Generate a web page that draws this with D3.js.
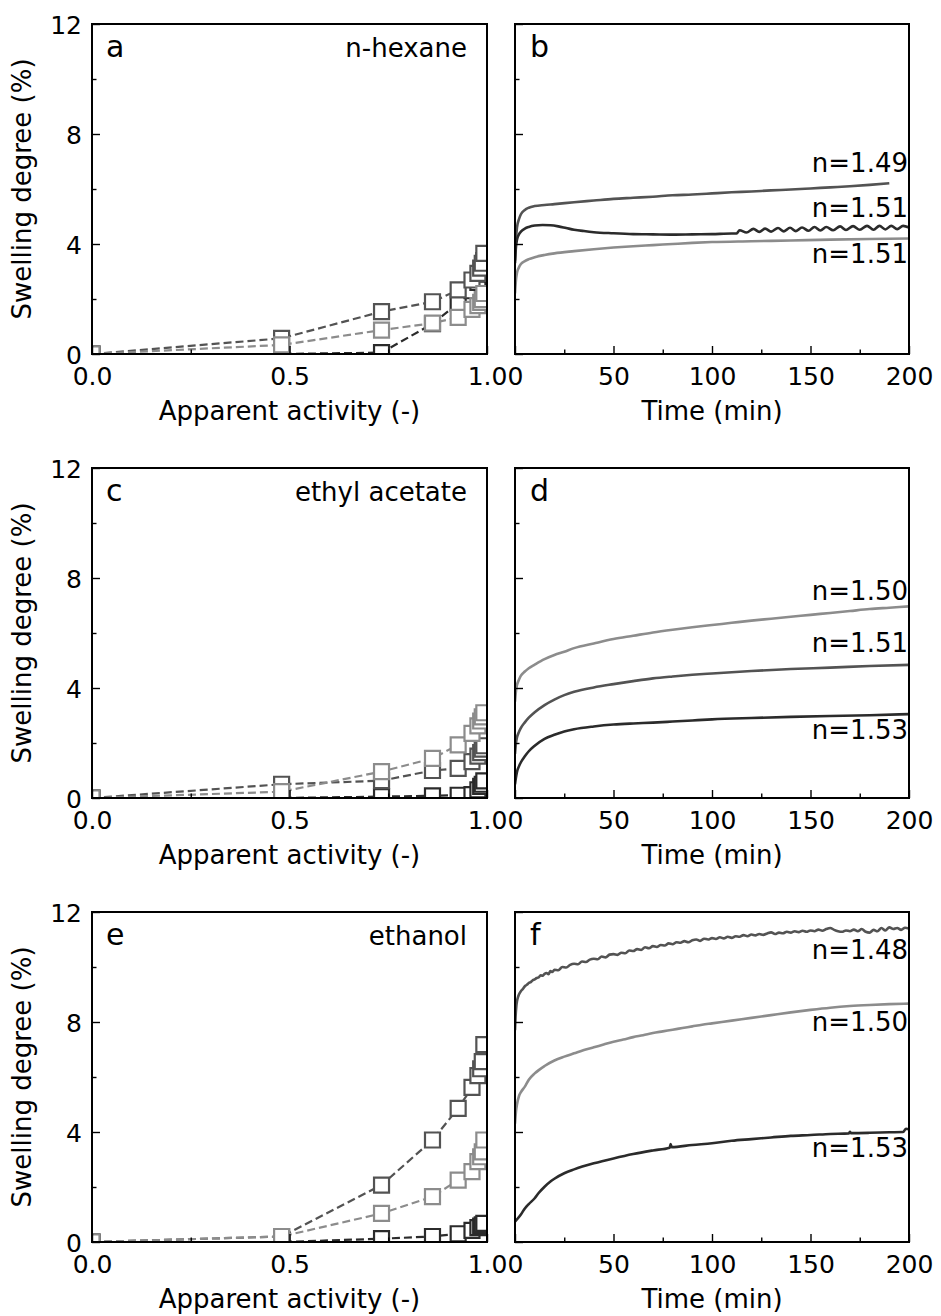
<!DOCTYPE html>
<html>
<head>
<meta charset="utf-8">
<script src="https://cdn.jsdelivr.net/npm/d3@7"></script>
<style>
  body { margin: 0; background: #fff; }
  svg { display: block; }
  text { font-family: "DejaVu Sans", sans-serif; fill: #000; }
</style>
</head>
<body>
<svg id="fig" width="941" height="1316"></svg>
<script>
// ---------- sorption isotherms (left column) ----------
const activity = [0, 0.48, 0.733, 0.862, 0.927, 0.962, 0.977, 0.984, 0.988, 0.992];

const hexaneDarkest = [0, 0, 0.05, 1.1, 1.85, 2.3, 2.6, 2.9, 3.1, 3.4];
const hexaneDark    = [0, 0.57, 1.54, 1.9, 2.33, 2.69, 2.93, 3.12, 3.3, 3.66];
const hexaneGray    = [0, 0.33, 0.87, 1.12, 1.33, 1.62, 1.76, 1.88, 1.98, 2.2];

const ethylDarkest = [0, 0, 0.05, 0.08, 0.1, 0.12, 0.3, 0.42, 0.5, 0.62];
const ethylDark    = [0, 0.5, 0.63, 1.0, 1.08, 1.32, 1.52, 1.65, 1.78, 1.9];
const ethylGray    = [0, 0.23, 0.96, 1.44, 1.93, 2.35, 2.62, 2.8, 2.95, 3.1];

const ethanolDarkest = [0, 0, 0.12, 0.2, 0.3, 0.42, 0.52, 0.58, 0.62, 0.68];
const ethanolDark    = [0, 0.2, 2.07, 3.71, 4.86, 5.62, 6.05, 6.3, 6.56, 7.18];
const ethanolGray    = [0, 0.2, 1.04, 1.65, 2.25, 2.56, 2.92, 3.1, 3.28, 3.71];

// ---------- swelling kinetics (right column), [time (min), swelling (%)] ----------
const hexaneN149 = [[0,3.4],[0.5,4.2],[1,4.6],[2,4.9],[3,5.08],[5,5.24],[7,5.32],[10,5.38],[15,5.42],[20,5.45],[30,5.52],[40,5.58],[50,5.64],[60,5.68],[70,5.72],[80,5.77],[90,5.8],[100,5.84],[110,5.88],[120,5.91],[130,5.95],[140,5.98],[150,6.02],[160,6.06],[170,6.1],[180,6.15],[190,6.21]];
const hexaneN151a = [[0,3.3],[0.5,3.9],[1,4.15],[2,4.35],[3,4.45],[5,4.56],[7,4.62],[10,4.67],[14,4.69],[18,4.68],[22,4.64],[26,4.58],[30,4.52],[35,4.47],[40,4.43],[50,4.39],[60,4.36],[70,4.35],[80,4.34],[90,4.35],[100,4.36],[110,4.38],[112.5,4.38],[114,4.5],[117.5,4.42],[121,4.55],[124,4.44],[127,4.56],[130,4.45],[133.5,4.58],[136.5,4.46],[139.6,4.59],[142.6,4.47],[145.7,4.6],[149,4.48],[152,4.62],[155,4.49],[158,4.62],[161.5,4.5],[165,4.64],[168,4.51],[171.6,4.65],[175,4.52],[178.7,4.66],[182,4.52],[185,4.66],[188,4.53],[191,4.66],[194,4.54],[197,4.66],[200,4.6]];
const hexaneN151b = [[0,2.2],[0.5,2.7],[1,2.95],[2,3.15],[3,3.27],[5,3.38],[7,3.45],[10,3.52],[15,3.6],[20,3.66],[30,3.74],[40,3.81],[50,3.87],[60,3.92],[70,3.96],[80,4.0],[90,4.04],[100,4.07],[120,4.1],[140,4.13],[160,4.16],[180,4.18],[200,4.2]];

const ethylN150 = [[0,3.5],[0.5,3.9],[1,4.1],[2,4.3],[3,4.45],[5,4.6],[7,4.72],[10,4.85],[15,5.05],[20,5.2],[25,5.32],[30,5.45],[40,5.62],[50,5.78],[60,5.9],[70,6.02],[80,6.12],[90,6.21],[100,6.29],[110,6.37],[120,6.45],[130,6.52],[140,6.59],[150,6.66],[160,6.73],[170,6.8],[180,6.87],[190,6.92],[200,6.97]];
const ethylN151 = [[0,1.6],[0.5,2.0],[1,2.2],[2,2.4],[3,2.55],[5,2.75],[7,2.92],[10,3.12],[15,3.38],[20,3.58],[25,3.74],[30,3.86],[40,4.02],[50,4.14],[60,4.25],[70,4.35],[80,4.42],[90,4.48],[100,4.53],[120,4.62],[140,4.69],[160,4.74],[180,4.8],[200,4.84]];
const ethylN153 = [[0,0.5],[0.5,0.75],[1,0.95],[2,1.15],[3,1.3],[5,1.52],[7,1.7],[10,1.9],[15,2.15],[20,2.3],[25,2.42],[30,2.5],[40,2.6],[50,2.67],[60,2.71],[70,2.74],[80,2.78],[90,2.82],[100,2.86],[120,2.91],[140,2.95],[160,2.98],[180,3.01],[200,3.05]];

const ethanolN148 = [[0,7.7],[0.3,8.2],[0.7,8.6],[1,8.75],[1.5,8.9],[2,9.0],[3,9.12],[4,9.2],[5,9.3],[6,9.35],[7,9.42],[8,9.45],[9,9.52],[10,9.55],[11,9.6],[12,9.62],[13,9.7],[14,9.68],[15,9.75],[16,9.78],[17,9.74],[18,9.85],[19,9.82],[20,9.9],[22,9.88],[24,10.0],[26,9.98],[28,10.08],[30,10.12],[32,10.1],[34,10.2],[36,10.18],[38,10.27],[40,10.3],[42,10.28],[44,10.38],[46,10.35],[48,10.45],[50,10.47],[52,10.44],[54,10.52],[56,10.5],[58,10.6],[60,10.58],[62,10.65],[64,10.62],[66,10.72],[68,10.68],[70,10.76],[72,10.73],[74,10.8],[76,10.78],[78,10.86],[80,10.83],[82,10.9],[84,10.88],[86,10.94],[88,10.9],[90,10.97],[92,11.0],[94,10.95],[96,11.03],[98,11.0],[100,11.05],[102,11.02],[104,11.08],[106,11.04],[108,11.1],[110,11.06],[112,11.12],[114,11.1],[116,11.16],[118,11.12],[120,11.18],[122,11.15],[124,11.2],[126,11.17],[128,11.22],[130,11.26],[132,11.2],[134,11.25],[136,11.23],[138,11.28],[140,11.25],[142,11.3],[144,11.27],[146,11.32],[148,11.28],[150,11.33],[152,11.3],[154,11.36],[156,11.32],[158,11.38],[160,11.42],[162,11.35],[164,11.3],[166,11.28],[168,11.33],[170,11.3],[172,11.36],[174,11.3],[176,11.38],[178,11.28],[180,11.25],[182,11.35],[184,11.3],[186,11.42],[188,11.33],[190,11.44],[192,11.38],[194,11.42],[196,11.35],[198,11.43],[200,11.4]];
const ethanolN150 = [[0,4.3],[0.5,4.75],[1,5.0],[2,5.3],[3,5.45],[5,5.65],[7,5.9],[10,6.13],[15,6.4],[20,6.6],[25,6.74],[30,6.86],[35,6.98],[40,7.08],[45,7.18],[50,7.28],[55,7.36],[60,7.45],[65,7.52],[70,7.6],[75,7.66],[80,7.72],[85,7.78],[90,7.84],[95,7.9],[100,7.95],[110,8.05],[120,8.15],[130,8.25],[140,8.35],[150,8.44],[160,8.52],[170,8.58],[180,8.62],[190,8.65],[200,8.67]];
const ethanolN153 = [[0,0.74],[3,1.0],[5,1.22],[7,1.38],[10,1.59],[12,1.78],[15,2.01],[18,2.2],[20,2.3],[25,2.5],[30,2.64],[40,2.86],[50,3.04],[60,3.2],[70,3.33],[78.5,3.43],[79,3.56],[79.5,3.45],[90,3.53],[100,3.59],[110,3.68],[120,3.74],[130,3.8],[140,3.86],[150,3.89],[160,3.93],[169.5,3.95],[170,4.01],[170.5,3.96],[180,3.97],[190,3.99],[197,4.0],[198.5,4.12],[200,4.1]];

// ---------- axis ticks and labels ----------
const activityTicks = [0, 0.5, 1.0];
const activityMinor = [0.25, 0.75];
const timeTicks = [0, 50, 100, 150, 200];
const timeMinor = [25, 75, 125, 175];
const swellTicks = [0, 4, 8, 12];
const swellMinor = [2, 6, 10];

const solvents = ["n-hexane", "ethyl acetate", "ethanol"];
const panelLetters = [["a", "b"], ["c", "d"], ["e", "f"]];

// ---------- styles ----------
const DARKEST = "#2b2b2b", DARK = "#535353", GRAY = "#8c8c8c";
const TICK_FONT = 25, TEXT_FONT = 26, LETTER_FONT = 30;

// ---------- layout ----------
const colL = { x0: 92, x1: 487 };
const colR = { x0: 515, x1: 909 };
const rowY = [{ y0: 24, y1: 354 }, { y0: 468, y1: 798 }, { y0: 912, y1: 1242 }];

const svg = d3.select("#fig");

const isotherms = [
  [{ v: hexaneDarkest, c: DARKEST }, { v: hexaneDark, c: DARK }, { v: hexaneGray, c: GRAY }],
  [{ v: ethylDarkest, c: DARKEST }, { v: ethylDark, c: DARK }, { v: ethylGray, c: GRAY }],
  [{ v: ethanolDarkest, c: DARKEST }, { v: ethanolDark, c: DARK }, { v: ethanolGray, c: GRAY }]
];

const kinetics = [
  [{ d: hexaneN149, c: DARK, label: "n=1.49" }, { d: hexaneN151a, c: DARKEST, label: "n=1.51" }, { d: hexaneN151b, c: GRAY, label: "n=1.51" }],
  [{ d: ethylN150, c: GRAY, label: "n=1.50" }, { d: ethylN151, c: DARK, label: "n=1.51" }, { d: ethylN153, c: DARKEST, label: "n=1.53" }],
  [{ d: ethanolN148, c: DARK, label: "n=1.48" }, { d: ethanolN150, c: GRAY, label: "n=1.50" }, { d: ethanolN153, c: DARKEST, label: "n=1.53" }]
];
// baselines of the refractive-index labels, in swelling units
const labelLevels = [[6.62, 4.98, 3.31], [7.2, 5.31, 2.15], [10.29, 7.67, 3.09]];

function styleAxis(g) {
  g.select(".domain").remove();
  g.selectAll(".tick line").attr("stroke", "#000").attr("stroke-width", 1.4);
  g.selectAll(".tick text").style("font-size", TICK_FONT + "px").attr("fill", "#000");
}

function drawFrame(g, x, y, xTicks, xMinor, xFmt, showYLabels) {
  const h = y.range()[0];
  const xa = g.append("g").attr("transform", `translate(0,${h})`)
    .call(d3.axisBottom(x).tickValues(xTicks).tickFormat(xFmt).tickSize(-8).tickPadding(13));
  styleAxis(xa);
  const xm = g.append("g").attr("transform", `translate(0,${h})`)
    .call(d3.axisBottom(x).tickValues(xMinor).tickFormat("").tickSize(-4.5));
  styleAxis(xm);
  const ya = g.append("g")
    .call(d3.axisLeft(y).tickValues(swellTicks).tickFormat(showYLabels ? d3.format("d") : "").tickSize(-8).tickPadding(10));
  styleAxis(ya);
  ya.selectAll(".tick text").attr("dy", "0.36em");
  const ym = g.append("g")
    .call(d3.axisLeft(y).tickValues(swellMinor).tickFormat("").tickSize(-4.5));
  styleAxis(ym);
  g.append("rect").attr("x", 0).attr("y", 0)
    .attr("width", x.range()[1]).attr("height", h)
    .attr("fill", "none").attr("stroke", "#000").attr("stroke-width", 2);
}

rowY.forEach((r, i) => {
  const h = r.y1 - r.y0;

  // ----- left: swelling vs apparent activity -----
  const wL = colL.x1 - colL.x0;
  const gL = svg.append("g").attr("transform", `translate(${colL.x0},${r.y0})`);
  const xA = d3.scaleLinear().domain([0, 1]).range([0, wL]);
  const yS = d3.scaleLinear().domain([0, 12]).range([h, 0]);

  const clipL = "clipL" + i;
  gL.append("clipPath").attr("id", clipL).append("rect").attr("width", wL).attr("height", h);
  const plotL = gL.append("g").attr("clip-path", `url(#${clipL})`);

  const sq = d3.symbol().type(d3.symbolSquare).size(15 * 15);
  const lineA = d3.line().x((d, k) => xA(activity[k])).y(d => yS(d));
  isotherms[i].forEach(s => {
    plotL.append("path").attr("d", lineA(s.v))
      .attr("fill", "none").attr("stroke", s.c).attr("stroke-width", 2.2)
      .attr("stroke-dasharray", "8,4");
    plotL.selectAll(null).data(s.v).enter().append("path")
      .attr("d", sq)
      .attr("transform", (d, k) => `translate(${xA(activity[k])},${yS(d)})`)
      .attr("fill", "#fff").attr("stroke", s.c).attr("stroke-width", 2.2);
  });

  drawFrame(gL, xA, yS, activityTicks, activityMinor, d3.format(".1f"), true);

  gL.append("text").attr("x", 14).attr("y", 33).style("font-size", LETTER_FONT + "px").text(panelLetters[i][0]);
  gL.append("text").attr("x", wL - 20).attr("y", 33).attr("text-anchor", "end")
    .style("font-size", TEXT_FONT + "px").text(solvents[i]);

  gL.append("text").attr("x", wL / 2).attr("y", h + 66).attr("text-anchor", "middle")
    .style("font-size", TEXT_FONT + "px").text("Apparent activity (-)");
  gL.append("text").attr("transform", `translate(${31 - colL.x0},${h / 2}) rotate(-90)`)
    .attr("text-anchor", "middle").style("font-size", TEXT_FONT + "px").text("Swelling degree (%)");

  // ----- right: swelling vs time -----
  const wR = colR.x1 - colR.x0;
  const gR = svg.append("g").attr("transform", `translate(${colR.x0},${r.y0})`);
  const xT = d3.scaleLinear().domain([0, 200]).range([0, wR]);

  const clipR = "clipR" + i;
  gR.append("clipPath").attr("id", clipR).append("rect").attr("width", wR).attr("height", h);
  const plotR = gR.append("g").attr("clip-path", `url(#${clipR})`);

  const lineT = d3.line().x(d => xT(d[0])).y(d => yS(d[1])).curve(d3.curveMonotoneX);
  kinetics[i].forEach(s => {
    plotR.append("path").attr("d", lineT(s.d))
      .attr("fill", "none").attr("stroke", s.c).attr("stroke-width", 2.6)
      .attr("stroke-linejoin", "round");
  });

  drawFrame(gR, xT, yS, timeTicks, timeMinor, d3.format("d"), false);

  gR.append("text").attr("x", 15).attr("y", 33).style("font-size", LETTER_FONT + "px").text(panelLetters[i][1]);
  kinetics[i].forEach((s, k) => {
    gR.append("text").attr("x", wR - 1).attr("y", yS(labelLevels[i][k]))
      .attr("text-anchor", "end").style("font-size", TEXT_FONT + "px").text(s.label);
  });

  gR.append("text").attr("x", wR / 2).attr("y", h + 66).attr("text-anchor", "middle")
    .style("font-size", TEXT_FONT + "px").text("Time (min)");
});
</script>
</body>
</html>
